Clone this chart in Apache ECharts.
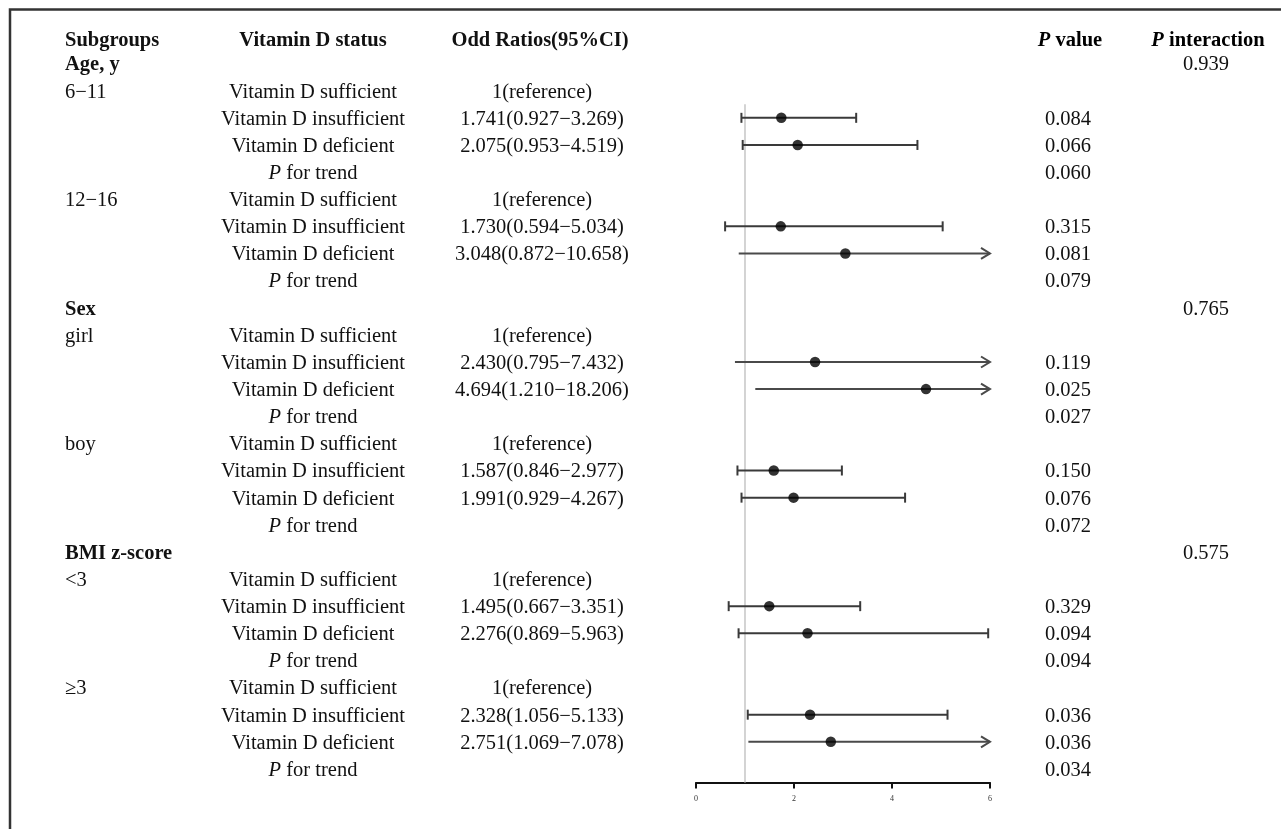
<!DOCTYPE html>
<html>
<head>
<meta charset="utf-8">
<script src="https://cdn.jsdelivr.net/npm/echarts@6/dist/echarts.min.js"></script>
<style>
html,body{margin:0;padding:0;background:#fff;}
#chart{width:1281px;height:829px;}
</style>
</head>
<body>
<div id="chart"></div>
<script>
// ---- data ----
const subgroupLabels = ['Age, y','6−11','','','','12−16','','','','Sex','girl','','','','boy','','','','BMI z-score','<3','','','','≥3','','',''];
const statusLabels = ['','Vitamin D sufficient','Vitamin D insufficient','Vitamin D deficient','P for trend',
  'Vitamin D sufficient','Vitamin D insufficient','Vitamin D deficient','P for trend',
  '','Vitamin D sufficient','Vitamin D insufficient','Vitamin D deficient','P for trend',
  'Vitamin D sufficient','Vitamin D insufficient','Vitamin D deficient','P for trend',
  '','Vitamin D sufficient','Vitamin D insufficient','Vitamin D deficient','P for trend',
  'Vitamin D sufficient','Vitamin D insufficient','Vitamin D deficient','P for trend'];
const orValues = [null,1,1.741,2.075,null, 1,1.730,3.048,null, null,1,2.430,4.694,null, 1,1.587,1.991,null, null,1,1.495,2.276,null, 1,2.328,2.751,null];
const ciLower  = [null,null,0.927,0.953,null, null,0.594,0.872,null, null,null,0.795,1.210,null, null,0.846,0.929,null, null,null,0.667,0.869,null, null,1.056,1.069,null];
const ciUpper  = [null,null,3.269,4.519,null, null,5.034,10.658,null, null,null,7.432,18.206,null, null,2.977,4.267,null, null,null,3.351,5.963,null, null,5.133,7.078,null];
const pValues  = ['','','0.084','0.066','0.060', '','0.315','0.081','0.079', '','','0.119','0.025','0.027', '','0.150','0.076','0.072', '','','0.329','0.094','0.094', '','0.036','0.036','0.034'];
const pInteraction = ['0.939','','','','','','','','', '0.765','','','','','','','','', '0.575','','','','','','','',''];
const xTicks = [0, 2, 4, 6];
const headers = ['Subgroups','Vitamin D status','Odd Ratios(95%CI)','P value','P interaction'];

// ---- build ----
const rowIds = subgroupLabels.map((_, i) => String(i));
const FONT = '"Liberation Serif","Times New Roman",serif';
const FS = 20.5;
const TXT = '#111';
const rich = {
  n: {fontFamily: FONT, fontSize: FS, color: TXT},
  b: {fontFamily: FONT, fontSize: FS, color: TXT, fontWeight: 'bold'},
  i: {fontFamily: FONT, fontSize: FS, color: TXT, fontStyle: 'italic'},
  bi: {fontFamily: FONT, fontSize: FS, color: TXT, fontStyle: 'italic', fontWeight: 'bold'}
};
function fmtStatus(s) {
  if (s.indexOf('P ') === 0) return '{i|P}{n|' + s.slice(1) + '}';
  return s ? '{n|' + s + '}' : '';
}
function orText(i) {
  if (orValues[i] == null) return '';
  if (ciLower[i] == null) return '1(reference)';
  return orValues[i].toFixed(3) + '(' + ciLower[i].toFixed(3) + '−' + ciUpper[i].toFixed(3) + ')';
}
function textAxis(position, offset, align, fn) {
  return {
    type: 'category', data: rowIds, inverse: true, gridIndex: 0,
    position: position, offset: offset,
    axisLine: {show: false}, axisTick: {show: false}, splitLine: {show: false},
    axisLabel: {
      interval: 0, margin: 0, align: align, verticalAlign: 'middle',
      padding: [3, 0, 0, 0],
      fontFamily: FONT, fontSize: FS, color: TXT, rich: rich,
      formatter: function (v, idx) { return fn(Number(v)); }
    }
  };
}

const GRID_LEFT = 696, GRID_RIGHT_X = 990;
const ciData = [], dotData = [];
orValues.forEach((v, i) => {
  if (ciLower[i] != null) {
    ciData.push([ciLower[i], ciUpper[i], i]);
    dotData.push([v, i]);
  }
});
const XMAX = xTicks[xTicks.length - 1];
const HY = 41;

const option = {
  backgroundColor: '#fff',
  animation: false,
  grid: {left: GRID_LEFT, right: 1281 - GRID_RIGHT_X, top: 50, bottom: 46.5, containLabel: false},
  xAxis: {
    type: 'value', min: xTicks[0], max: XMAX, interval: 2,
    axisLine: {show: true, lineStyle: {color: '#111', width: 2}},
    axisTick: {show: true, length: 6, lineStyle: {color: '#111', width: 2}},
    axisLabel: {fontFamily: FONT, fontSize: 8, color: '#333', margin: 12},
    splitLine: {show: false}
  },
  yAxis: [
    {type: 'category', data: rowIds, inverse: true, show: false},
    textAxis('left', GRID_LEFT - 65, 'left', i => subgroupLabels[i] ? (statusLabels[i] ? '{n|' + subgroupLabels[i] + '}' : '{b|' + subgroupLabels[i] + '}') : ''),
    textAxis('left', GRID_LEFT - 313, 'center', i => fmtStatus(statusLabels[i])),
    textAxis('left', GRID_LEFT - 542, 'center', i => orText(i) ? '{n|' + orText(i) + '}' : ''),
    textAxis('right', 1068 - GRID_RIGHT_X, 'center', i => pValues[i] ? '{n|' + pValues[i] + '}' : ''),
    textAxis('right', 1206 - GRID_RIGHT_X, 'center', i => pInteraction[i] ? '{n|' + pInteraction[i] + '}' : '')
  ],
  graphic: [
    {type: 'rect', z: -10, shape: {x: 10, y: 9.5, width: 1400, height: 1000}, style: {fill: 'none', stroke: '#333', lineWidth: 2.5}},
    {type: 'text', x: 65, y: HY, style: {text: headers[0], font: 'bold ' + FS + 'px ' + FONT, fill: TXT, textAlign: 'left', textVerticalAlign: 'middle'}},
    {type: 'text', x: 313, y: HY, style: {text: headers[1], font: 'bold ' + FS + 'px ' + FONT, fill: TXT, textAlign: 'center', textVerticalAlign: 'middle'}},
    {type: 'text', x: 540, y: HY, style: {text: headers[2], font: 'bold ' + FS + 'px ' + FONT, fill: TXT, textAlign: 'center', textVerticalAlign: 'middle'}},
    {type: 'text', x: 1070, y: HY, style: {text: '{bi|P}{b|' + headers[3].slice(1) + '}', rich: rich, textAlign: 'center', textVerticalAlign: 'middle'}},
    {type: 'text', x: 1208, y: HY, style: {text: '{bi|P}{b|' + headers[4].slice(1) + '}', rich: rich, textAlign: 'center', textVerticalAlign: 'middle'}}
  ],
  series: [
    {
      type: 'custom', z: 1, silent: true,
      data: [[1, 1]],
      renderItem: function (params, api) {
        const x = api.coord([api.value(0), 0])[0];
        const top = api.coord([1, api.value(1)])[1] + api.size([0, 1])[1] / 2;
        const bottom = params.coordSys.y + params.coordSys.height;
        return {type: 'line', shape: {x1: x, y1: top, x2: x, y2: bottom}, style: {stroke: '#c9c9c9', lineWidth: 1.6}};
      }
    },
    {
      type: 'custom', z: 2, silent: true,
      encode: {x: [0, 1], y: 2},
      data: ciData,
      renderItem: function (params, api) {
        const lo = api.value(0), hi = api.value(1), row = api.value(2);
        const p0 = api.coord([lo, row]);
        const y = p0[1];
        const arrow = hi > XMAX;
        const x1 = api.coord([arrow ? XMAX : hi, row])[0];
        const col = arrow ? '#4a4a4a' : '#3a3a3a';
        const children = [{type: 'line', shape: {x1: p0[0], y1: y, x2: x1, y2: y}, style: {stroke: col, lineWidth: 2}}];
        if (arrow) {
          children.push({type: 'polyline', shape: {points: [[x1 - 9, y - 5.5], [x1, y], [x1 - 9, y + 5.5]]}, style: {stroke: col, lineWidth: 2, fill: 'none'}});
        } else {
          children.push({type: 'line', shape: {x1: p0[0], y1: y - 5, x2: p0[0], y2: y + 5}, style: {stroke: col, lineWidth: 2}});
          children.push({type: 'line', shape: {x1: x1, y1: y - 5, x2: x1, y2: y + 5}, style: {stroke: col, lineWidth: 2}});
        }
        return {type: 'group', children: children};
      }
    },
    {
      type: 'scatter', z: 3, silent: true,
      data: dotData, symbol: 'circle', symbolSize: 10.5,
      itemStyle: {color: '#000'}
    }
  ]
};
const chart = echarts.init(document.getElementById('chart'), null, {renderer: 'canvas'});
chart.setOption(option);
</script>
</body>
</html>
